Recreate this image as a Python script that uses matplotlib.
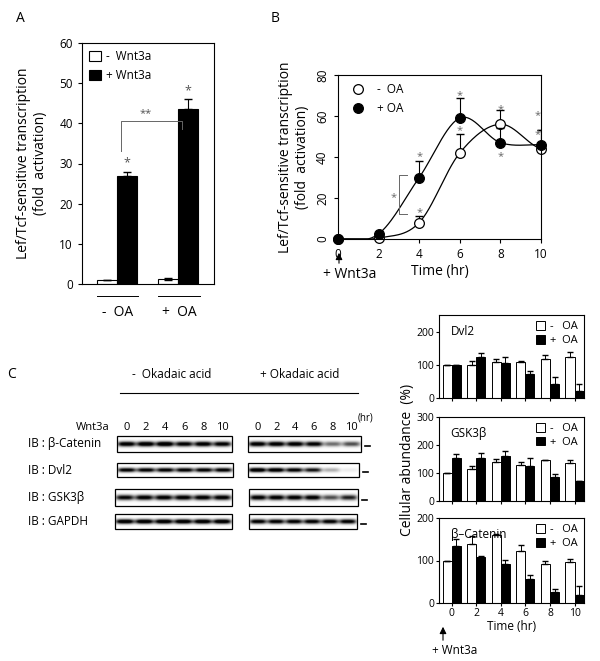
import numpy as np
import matplotlib.pyplot as plt

plt.rcParams['font.family'] = ['Open Sans', 'DejaVu Sans']

W, H = 600, 661

# panel A
a_groups = ['-  OA', '+  OA']
a_minus = [1.0, 1.2]
a_minus_err = [0.0, 0.3]
a_plus = [27.0, 43.5]
a_plus_err = [1.0, 2.6]

# panel B
b_time = [0, 2, 4, 6, 8, 10]
b_noa = [0, 0.5, 8, 42, 56, 44]
b_noa_err = [0, 0, 3, 9, 7, 9]
b_oa = [0, 2.5, 30, 59, 47, 46]
b_oa_err = [0, 0, 8, 10, 7, 7]

# panel C blots (relative band strength)
lanes = ['0', '2', '4', '6', '8', '10']
blots = {
    'β-Catenin': ([0.9, 0.95, 1.0, 0.85, 0.9, 0.85], [0.9, 0.9, 0.9, 0.85, 0.45, 0.55]),
    'Dvl2': ([0.85] * 6, [1.0, 0.95, 0.85, 0.75, 0.25, 0.06]),
    'GSK3β': ([0.8, 0.85, 0.85, 0.85, 0.85, 0.85], [0.85, 0.85, 0.85, 0.85, 0.55, 0.7]),
    'GAPDH': ([0.95] * 6, [0.85] * 6),
}

# panel C quantification
q_names = ['Dvl2', 'GSK3β', 'β–Catenin']
q_noa = [[100, 100, 108, 108, 118, 125], [100, 115, 140, 128, 145, 135], [100, 140, 160, 122, 92, 96]]
q_noa_err = [[0, 12, 8, 3, 12, 15], [0, 10, 10, 12, 3, 12], [0, 18, 3, 14, 8, 8]]
q_oa = [[100, 122, 105, 72, 42, 22], [155, 155, 160, 125, 85, 70], [135, 108, 92, 57, 25, 20]]
q_oa_err = [[0, 15, 20, 8, 20, 20], [12, 15, 20, 28, 12, 0], [15, 3, 10, 8, 8, 20]]
q_ylim = [250, 300, 200]
q_yticks = [[0, 100, 200], [0, 100, 200, 300], [0, 100, 200]]

fig = plt.figure(figsize=(6, 6.61), dpi=100)


def ax_px(l, t, r, b):
    return fig.add_axes([l / W, 1 - b / H, (r - l) / W, (b - t) / H])


bg = ax_px(0, 0, W, H)
bg.set_xlim(0, W)
bg.set_ylim(H, 0)
bg.axis('off')
bg.set_zorder(-1)

fs = 8.5
# ---------- A ----------
bg.text(20, 18, 'A', fontsize=10, ha='center', va='center')
ax = ax_px(82, 43, 214, 284)
xw = [1.25, 4.3]
xb = [2.25, 5.3]
ax.bar(xw, a_minus, 1.0, yerr=a_minus_err, color='white', edgecolor='black', lw=0.8,
       error_kw=dict(lw=0.8, capsize=3), label='-  Wnt3a')
ax.bar(xb, a_plus, 1.0, yerr=[[0, 0], a_plus_err], color='black', edgecolor='black', lw=0.8,
       error_kw=dict(lw=0.8, capsize=3), label='+ Wnt3a')
ax.set_xlim(0, 6.6)
ax.set_ylim(0, 60)
ax.set_yticks(range(0, 61, 10))
ax.set_xticks([])
ax.tick_params(labelsize=fs, direction='out', length=3)
for x, v, e in zip(xb, a_plus, a_plus_err):
    ax.text(x, v + e + 0.5, '*', ha='center', va='bottom', fontsize=9, color='#555')
ax.plot([xb[0] - 0.3, xb[0] - 0.3, xb[1] - 0.3, xb[1] - 0.3], [33, 40.5, 40.5, 38.5], color='#666', lw=0.7)
ax.text((xb[0] + xb[1]) / 2 - 0.6, 41, '**', ha='center', va='bottom', fontsize=8, color='#555')
ax.legend(loc='upper left', frameon=False, fontsize=fs, handlelength=1.0, handleheight=1.0,
          borderaxespad=0.2, handletextpad=0.4, labelspacing=0.5)
ax.set_ylabel('Lef/Tcf-sensitive transcription\n(fold  activation)', fontsize=10, labelpad=8)
for g, x0, x1 in zip(a_groups, [97, 158], [138, 200]):
    bg.plot([x0, x1], [296, 296], color='black', lw=0.7)
    bg.text((x0 + x1) / 2, 313, g, ha='center', va='center', fontsize=10)

# ---------- B ----------
bg.text(275, 18, 'B', fontsize=10, ha='center', va='center')
ax = ax_px(338, 75, 541, 239)


def smooth(x, y, n=30):
    x = np.asarray(x, float)
    y = np.asarray(y, float)
    xs, ys = [], []
    for i in range(len(x) - 1):
        p0 = y[max(i - 1, 0)]
        p1, p2 = y[i], y[i + 1]
        p3 = y[min(i + 2, len(y) - 1)]
        t = np.linspace(0, 1, n)
        ys.append(0.5 * (2 * p1 + (-p0 + p2) * t + (2 * p0 - 5 * p1 + 4 * p2 - p3) * t ** 2
                         + (-p0 + 3 * p1 - 3 * p2 + p3) * t ** 3))
        xs.append(x[i] + (x[i + 1] - x[i]) * t)
    return np.concatenate(xs), np.concatenate(ys)


for y, e, fc, lab in [(b_noa, b_noa_err, 'white', '-  OA'), (b_oa, b_oa_err, 'black', '+ OA')]:
    sx, sy = smooth(b_time, y)
    ax.plot(sx, np.clip(sy, 0, None), color='black', lw=0.9)
    ax.errorbar(b_time, y, yerr=[[0] * 6, e], fmt='none', ecolor='black', lw=0.8, capsize=3)
    ax.plot(b_time, y, 'o', ms=7, mfc=fc, mec='black', mew=0.9, ls='none', label=lab, clip_on=False)
for x, yy in [(4, 40), (4, 13), (6, 70), (6, 53), (8, 63), (8, 40), (9.85, 60), (9.85, 51)]:
    ax.text(x, yy, '*', ha='center', va='center', fontsize=8, color='#666')
ax.plot([3.4, 3.0, 3.0, 3.4], [31, 31, 12, 12], color='#666', lw=0.7)
ax.text(2.75, 20, '*', ha='center', va='center', fontsize=8, color='#666')
ax.set_xlim(0, 10)
ax.set_ylim(0, 80)
ax.set_xticks(b_time)
ax.set_yticks(range(0, 81, 20))
ax.tick_params(labelsize=fs, direction='out', length=3)
for lb in ax.get_yticklabels():
    lb.set_rotation(90)
    lb.set_va('center')
ax.set_xlabel('Time (hr)', fontsize=10, labelpad=2)
ax.set_ylabel('Lef/Tcf-sensitive transcription\n(fold  activation)', fontsize=10, labelpad=4)
ax.legend(loc='upper left', frameon=False, fontsize=fs, handletextpad=0.6, borderaxespad=0.3)
bg.annotate('', xy=(339, 250), xytext=(339, 266), arrowprops=dict(arrowstyle='-|>', color='black', lw=0.8))
bg.text(350, 275, '+ Wnt3a', ha='center', va='center', fontsize=10)

# ---------- C blots ----------
bg.text(12, 375, 'C', fontsize=10, ha='center', va='center')
bg.text(172, 375, '-  Okadaic acid', ha='center', va='center', fontsize=8.5)
bg.text(300, 375, '+ Okadaic acid', ha='center', va='center', fontsize=8.5)
bg.plot([120, 358], [393, 393], color='black', lw=0.8)
bg.text(110, 427, 'Wnt3a', ha='right', va='center', fontsize=8)
for x0, x1 in [(117, 232), (248, 361)]:
    step = (x1 - x0) / 6
    for i, l in enumerate(lanes):
        bg.text(x0 + step * (i + 0.5), 427, l, ha='center', va='center', fontsize=8)
bg.text(366, 418, '(hr)', ha='center', va='center', fontsize=7)
rows = [(436, 452, 117, 232, 248, 361), (463, 477, 117, 233, 248, 359),
        (489, 506, 115, 232, 249, 358), (514, 529, 115, 232, 249, 357)]
for (name, (left, right)), (t, b, l0, l1, r0, r1) in zip(blots.items(), rows):
    bg.text(28, (t + b) / 2, 'IB : ' + name, ha='left', va='center', fontsize=8.5)
    for vals, x0, x1 in [(left, l0, l1), (right, r0, r1)]:
        nx, ny = 240, 40
        xx = np.linspace(0, 6, nx)
        yy = np.linspace(-1, 1, ny)[:, None]
        img = np.zeros((ny, nx))
        for i, v in enumerate(vals):
            lane = np.exp(-((xx - (i + 0.5)) / 0.47) ** 4)
            img += 1.3 * v * lane[None, :] * np.exp(-(yy / 0.32) ** 2)
        bg.imshow(1 - np.clip(img, 0, 1), cmap='gray', vmin=0, vmax=1, aspect='auto',
                  extent=(x0, x1, b, t), interpolation='bilinear')
        bg.add_patch(plt.Rectangle((x0, t), x1 - x0, b - t, fill=False, ec='black', lw=0.9))
    bg.plot([r1 + 4, r1 + 9], [(t + b) / 2 + 2] * 2, color='black', lw=1.2)
bg.set_xlim(0, W)
bg.set_ylim(H, 0)

# ---------- C quantification ----------
boxes = [(439, 315, 584, 398), (439, 417, 584, 501), (439, 518, 584, 603)]
gx = np.arange(6)
for k, (l, t, r, b) in enumerate(boxes):
    ax = ax_px(l, t, r, b)
    ax.bar(gx, q_noa[k], 0.37, yerr=[[0] * 6, q_noa_err[k]], color='white', edgecolor='black', lw=0.7,
           error_kw=dict(lw=0.7, capsize=2.5), label='-   OA')
    ax.bar(gx + 0.37, q_oa[k], 0.37, yerr=[[0] * 6, q_oa_err[k]], color='black', edgecolor='black', lw=0.7,
           error_kw=dict(lw=0.7, capsize=2.5), label='+  OA')
    ax.set_xlim(-0.33, 5.57)
    ax.set_ylim(0, q_ylim[k])
    ax.set_yticks(q_yticks[k])
    ax.set_xticks(gx + 0.185)
    ax.tick_params(labelsize=7.5, direction='out', length=2.5, pad=1)
    if k < 2:
        ax.set_xticklabels([])
    else:
        ax.set_xticklabels(lanes)
        ax.set_xlabel('Time (hr)', fontsize=8.5, labelpad=1)
    ax.text(0.08, 0.88, q_names[k], transform=ax.transAxes, fontsize=8.5, va='top', ha='left')
    ax.legend(loc='upper right', frameon=False, fontsize=8, handlelength=0.8, handleheight=0.8,
              borderaxespad=0.15, handletextpad=0.5, labelspacing=0.25)
bg.text(407, 460, 'Cellular abundance  (%)', rotation=90, ha='center', va='center', fontsize=10)
bg.annotate('', xy=(443, 624), xytext=(443, 643), arrowprops=dict(arrowstyle='-|>', color='black', lw=0.8))
bg.text(455, 650, '+ Wnt3a', ha='center', va='center', fontsize=8.5)

fig.savefig('out.png', dpi=100)
